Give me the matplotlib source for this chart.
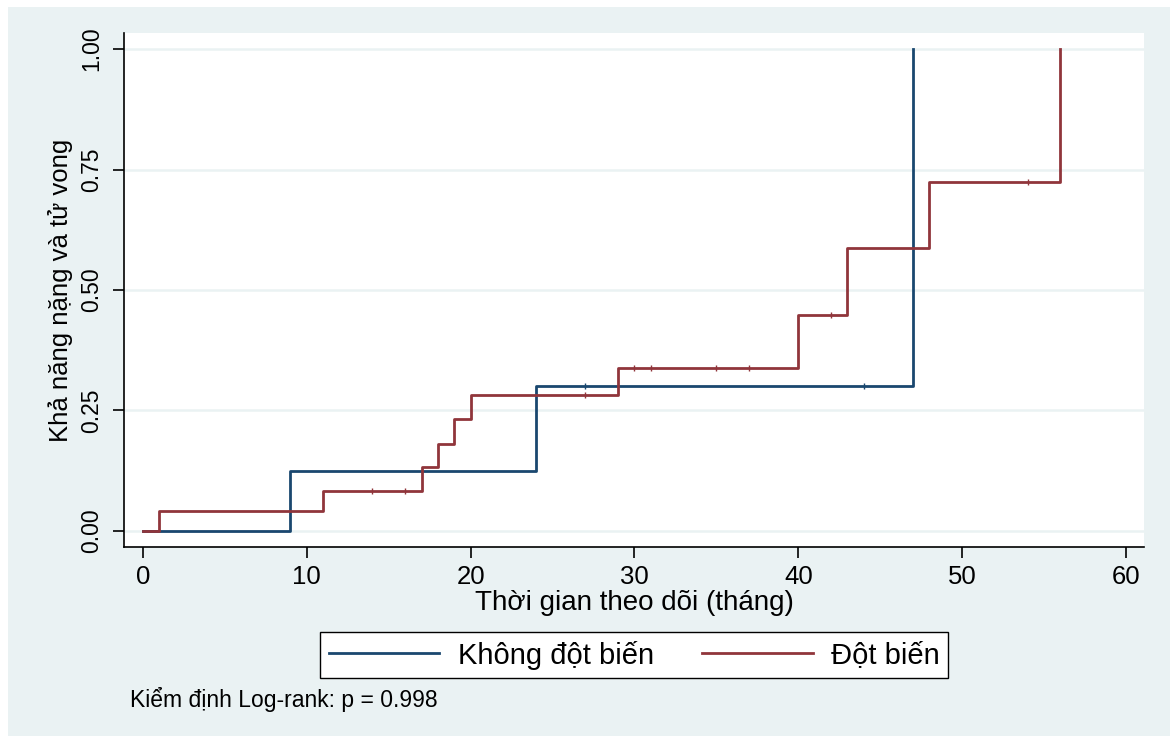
import matplotlib
matplotlib.use("Agg")
import matplotlib.pyplot as plt
from matplotlib.lines import Line2D
from matplotlib.patches import Rectangle

plt.rcParams['font.family'] = ['Liberation Sans', 'DejaVu Sans']

# Cumulative incidence step curves (time in months, probability)
time_no_mut = [0, 9, 24, 47, 47]
prob_no_mut = [0.0, 0.125, 0.30, 1.0, 1.0]
cens_no_mut = [27, 44]

time_mut = [0, 1, 11, 17, 18, 19, 20, 29, 40, 43, 48, 56, 56]
prob_mut = [0.0, 0.0417, 0.083, 0.133, 0.18, 0.232, 0.282, 0.338, 0.448,
            0.587, 0.724, 1.0, 1.0]
cens_mut = [14, 16, 27, 30, 31, 35, 37, 42, 54]

x_ticks = [0, 10, 20, 30, 40, 50, 60]
y_ticks = [0.0, 0.25, 0.50, 0.75, 1.0]
y_ticklabels = ["0.00", "0.25", "0.50", "0.75", "1.00"]

label_no_mut = "Không đột biến"
label_mut = "Đột biến"
xlabel = "Thời gian theo dõi (tháng)"
ylabel = "Khả năng nặng và tử vong"
note = "Kiểm định Log-rank: p = 0.998"

BLUE = "#1a476f"
RED = "#90353b"
BG = "#eaf2f3"

W, H = 1170, 736
fig = plt.figure(figsize=(W / 100, H / 100), dpi=100)
fig.patch.set_facecolor("white")
fig.patches.append(Rectangle((8 / W, 0), 1 - 8 / W, 1 - 7 / H,
                             transform=fig.transFigure, facecolor=BG,
                             edgecolor="none", zorder=-10))

left, right, top, bottom = 124, 1144, 33, 547
ax = fig.add_axes([left / W, 1 - bottom / H, (right - left) / W, (bottom - top) / H])
ax.set_facecolor("white")


def value_at(times, probs, t):
    v = probs[0]
    for ti, pi in zip(times, probs):
        if ti <= t:
            v = pi
    return v


ax.step(time_no_mut, prob_no_mut, where="post", color=BLUE, lw=2.0, zorder=3)
ax.step(time_mut, prob_mut, where="post", color=RED, lw=2.0, zorder=4)
ax.plot(cens_no_mut, [value_at(time_no_mut, prob_no_mut, t) for t in cens_no_mut],
        ls="none", marker="|", ms=4, mew=1.0, color=BLUE, zorder=5)
ax.plot(cens_mut, [value_at(time_mut, prob_mut, t) for t in cens_mut],
        ls="none", marker="|", ms=4, mew=1.0, color=RED, zorder=5)

ax.set_xlim(-1.16, 61.1)
ax.set_ylim(-0.0332, 1.0332)
ax.set_xticks(x_ticks)
ax.set_yticks(y_ticks)
ax.set_yticklabels(y_ticklabels, rotation=90, va="center")
ax.grid(axis="y", color=BG, lw=1.8, zorder=0)
ax.set_axisbelow(True)
for s in ["top", "right"]:
    ax.spines[s].set_visible(False)
for s in ["left", "bottom"]:
    ax.spines[s].set_linewidth(1.2)
    ax.spines[s].set_color("black")
ax.tick_params(axis="both", direction="out", length=8, width=1.2, pad=5)
ax.tick_params(axis="x", labelsize=18.5)
ax.tick_params(axis="y", labelsize=16.5, pad=7)

ax.set_xlabel(xlabel, fontsize=20, labelpad=1)
ax.set_ylabel(ylabel, fontsize=18.5, labelpad=5)

handles = [Line2D([], [], color=BLUE, lw=2.0), Line2D([], [], color=RED, lw=2.0)]
leg = fig.legend(handles, [label_no_mut, label_mut], ncol=2,
                 loc="center", bbox_to_anchor=(634 / W, 1 - 655 / H),
                 fontsize=21, frameon=True, fancybox=False, edgecolor="black",
                 framealpha=1.0, handlelength=3.8, handletextpad=0.62,
                 columnspacing=1.65, borderpad=0.3)
leg.get_frame().set_linewidth(1.0)
leg.get_frame().set_facecolor("white")

fig.text(130 / W, 1 - 699 / H, note, fontsize=16.5, ha="left", va="center")

fig.savefig("out.png", dpi=100, facecolor=fig.get_facecolor())
